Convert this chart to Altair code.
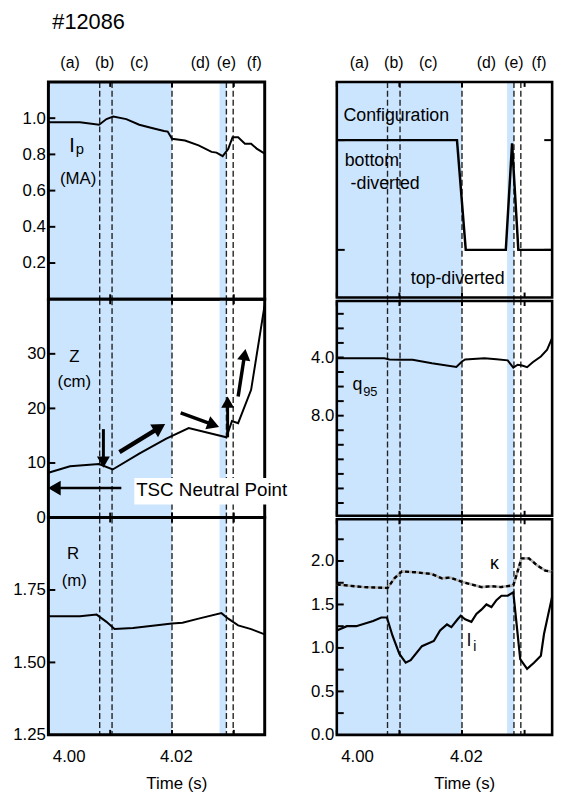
import math
import altair as alt
import pandas as pd

FONT = "Liberation Sans"
BLUE = "#cce5ff"

# ---------------- data ----------------
shot_label = "#12086"
region_labels = ["(a)", "(b)", "(c)", "(d)", "(e)", "(f)"]

left_domain = [4.0, 4.035]
right_domain = [4.0, 4.0344]

left_region_t = [4.0035, 4.0091, 4.0147, 4.0246, 4.0288, 4.0333]
right_region_t = [4.0036, 4.0091, 4.0146, 4.0239, 4.0283, 4.0323]
left_dashed_t = [4.0083, 4.0103, 4.0200, 4.0288, 4.0299]
right_dashed_t = [4.0081, 4.0101, 4.0200, 4.0283, 4.0294]
left_blue_start = [4.0000, 4.0277]
left_blue_end = [4.0200, 4.0288]
right_blue_start = [4.0000, 4.0272]
right_blue_end = [4.0200, 4.0283]
time_ticks = [4.00, 4.01, 4.02, 4.03]
time_labels = [4.00, 4.02]

# plasma current Ip (MA)
ip_t = [4.0000, 4.0051, 4.0082, 4.0094, 4.0105, 4.0126, 4.0147, 4.0169, 4.0187,
        4.0193, 4.0200, 4.0221, 4.0243, 4.0264, 4.0272, 4.0282, 4.0291, 4.0298,
        4.0307, 4.0318, 4.0328, 4.0337, 4.0350]
ip_v = [0.977, 0.977, 0.964, 0.995, 1.009, 0.995, 0.964, 0.944, 0.929,
        0.926, 0.886, 0.877, 0.850, 0.814, 0.810, 0.790, 0.830, 0.895,
        0.895, 0.859, 0.859, 0.832, 0.804]

# vertical position Z (cm)
z_t = [4.0000, 4.0035, 4.0082, 4.0104, 4.0147, 4.0190, 4.0227, 4.0288, 4.0297,
       4.0307, 4.0328, 4.0350]
z_v = [8.2, 9.4, 9.8, 8.8, 11.7, 14.4, 16.4, 14.7, 17.7, 17.3, 23.4, 39.0]

# major radius R (m)
r_t = [4.0000, 4.0051, 4.0078, 4.0094, 4.0107, 4.0137, 4.0200, 4.0217, 4.0243,
       4.0280, 4.0291, 4.0307, 4.0328, 4.0350]
r_v = [1.659, 1.659, 1.665, 1.640, 1.615, 1.619, 1.634, 1.637, 1.651,
       1.670, 1.651, 1.628, 1.615, 1.597]

# configuration: 1 = bottom-diverted, 0 = top-diverted
cfg_t = [4.0000, 4.0192, 4.0206, 4.0270, 4.0280, 4.0290, 4.0344]
cfg_v = [1.0, 1.0, 0.0, 0.0, 0.97, 0.0, 0.0]

# safety factor q95
q_t = [4.0000, 4.0076, 4.0084, 4.0102, 4.0121, 4.0152, 4.0191, 4.0200, 4.0205,
       4.0236, 4.0255, 4.0273, 4.0282, 4.0289, 4.0296, 4.0304, 4.0313, 4.0326,
       4.0336, 4.0344]
q_v = [4.05, 4.05, 4.14, 4.16, 4.16, 4.40, 4.65, 4.28, 4.14,
       4.05, 4.12, 4.20, 4.70, 4.50, 4.55, 4.67, 4.33, 3.93,
       3.47, 2.65]

# elongation kappa
k_t = [4.0000, 4.0042, 4.0081, 4.0092, 4.0104, 4.0126, 4.0152, 4.0168, 4.0181,
       4.0200, 4.0231, 4.0247, 4.0262, 4.0282, 4.0288, 4.0295, 4.0307, 4.0320,
       4.0333, 4.0344]
k_v = [1.73, 1.70, 1.69, 1.80, 1.88, 1.87, 1.85, 1.80, 1.81,
       1.76, 1.70, 1.71, 1.70, 1.72, 1.86, 2.03, 2.03, 1.95,
       1.89, 1.875]

# internal inductance li
li_t = [4.0000, 4.0016, 4.0031, 4.0058, 4.0071, 4.0080, 4.0089, 4.0100, 4.0110,
        4.0118, 4.0136, 4.0155, 4.0165, 4.0176, 4.0183, 4.0193, 4.0198, 4.0205,
        4.0215, 4.0223, 4.0231, 4.0239, 4.0247, 4.0255, 4.0263, 4.0273, 4.0282,
        4.0293, 4.0304, 4.0315, 4.0326, 4.0331, 4.0337, 4.0344]
li_v = [1.20, 1.25, 1.25, 1.31, 1.35, 1.35, 1.14, 0.93, 0.83,
        0.86, 1.02, 1.08, 1.20, 1.27, 1.24, 1.33, 1.37, 1.33,
        1.30, 1.39, 1.44, 1.50, 1.47, 1.55, 1.60, 1.60, 1.64,
        0.87, 0.76, 0.83, 0.91, 1.16, 1.36, 1.59]

# arrows in the Z panel: start -> head
arrow_t0 = [4.0089, 4.0115, 4.0214, 4.0290, 4.0307, 4.0118]
arrow_v0 = [16.2, 12.0, 19.2, 14.7, 22.2, 5.4]
arrow_t1 = [4.0089, 4.0177, 4.0264, 4.0290, 4.0317, 4.0013]
arrow_v1 = [10.5, 16.3, 17.1, 20.8, 29.5, 5.4]
arrow_w = [3.0, 4.5, 3.5, 3.0, 3.5, 2.5]
arrow_head = [170, 230, 200, 170, 180, 220]

tsc_label = "TSC Neutral Point"
tsc_t, tsc_v = 4.0142, 5.0
tsc_box_t = [4.0139, 4.0415]
tsc_box_v = [2.4, 7.25]


# ---------------- helpers ----------------
def df(**cols):
    return pd.DataFrame(cols)


def panel(W, H, xdom, ydom, y_labels, y_fmt, y_ticks, content, *, yrev=False,
          bottom=False, inset_top=0.0, inset_bot=0.0, border_w=3.0,
          dashed_t=(), blue_s=(), blue_e=(), right_ticks=False, tick_len=7,
          header_t=None, header_dy=-19, texts=None, left_texts=None,
          title_text=None):
    if bottom:
        xaxis = alt.Axis(values=time_labels, format=".2f", title="Time (s)",
                         ticks=False, tickSize=0, domain=False, grid=False,
                         labelFontSize=17, labelPadding=14, labelOffset=4,
                         labelFont=FONT, labelColor="black",
                         titleFont=FONT, titleFontSize=17,
                         titleFontWeight="normal", titleColor="black",
                         titlePadding=11, titleX=W / 2 + 20)
    else:
        xaxis = None
    if y_labels:
        yaxis = alt.Axis(values=y_labels, format=y_fmt, title=None, ticks=False,
                         tickSize=0, domain=False, grid=False,
                         labelFontSize=17, labelPadding=3, labelFont=FONT,
                         labelColor="black")
    else:
        yaxis = None
    xs = alt.Scale(domain=xdom, nice=False, zero=False)
    ys = alt.Scale(domain=ydom, nice=False, zero=False, reverse=yrev)
    X = alt.X("t:Q", scale=xs, axis=xaxis)
    Y = alt.Y("v:Q", scale=ys, axis=yaxis)

    layers = []
    layers.append(alt.Chart(df(t=list(blue_s), t2=list(blue_e)))
                  .mark_rect(color=BLUE)
                  .encode(x=X, x2="t2:Q"))
    layers.append(alt.Chart(df(t=list(dashed_t)))
                  .mark_rule(color="#222222", strokeDash=[6, 3], strokeWidth=1.4)
                  .encode(x=X))
    layers.append(alt.Chart(df(a=[0]))
                  .mark_rect(filled=False, stroke="black", strokeWidth=border_w)
                  .encode(x=alt.value(0), x2=alt.value(W),
                          y=alt.value(inset_top), y2=alt.value(H - inset_bot)))
    layers.extend(content(X, Y))
    # inward ticks
    layers.append(alt.Chart(df(v=list(y_ticks)))
                  .mark_rule(color="black", strokeWidth=2)
                  .encode(y=Y, x=alt.value(0), x2=alt.value(tick_len)))
    if right_ticks:
        layers.append(alt.Chart(df(v=list(y_ticks)))
                      .mark_rule(color="black", strokeWidth=2)
                      .encode(y=Y, x=alt.value(W - tick_len), x2=alt.value(W)))
    layers.append(alt.Chart(df(t=time_ticks))
                  .mark_rule(color="black", strokeWidth=2)
                  .encode(x=X, y=alt.value(inset_top), y2=alt.value(inset_top + 5)))
    layers.append(alt.Chart(df(t=time_ticks))
                  .mark_rule(color="black", strokeWidth=2)
                  .encode(x=X, y=alt.value(H - inset_bot - 5), y2=alt.value(H - inset_bot)))
    if texts is not None:
        layers.append(alt.Chart(texts)
                      .mark_text(font=FONT, color="black", align="center", baseline="middle")
                      .encode(x=X, y=Y, text="label:N",
                              size=alt.Size("fs:Q", scale=None)))
    if left_texts is not None:
        layers.append(alt.Chart(left_texts)
                      .mark_text(font=FONT, color="black", align="left", baseline="middle")
                      .encode(x=X, y=Y, text="label:N",
                              size=alt.Size("fs:Q", scale=None)))
    if header_t is not None:
        layers.append(alt.Chart(df(t=list(header_t), label=region_labels))
                      .mark_text(font=FONT, color="black", fontSize=16, baseline="middle")
                      .encode(x=X, y=alt.value(header_dy), text="label:N"))
    if title_text is not None:
        layers.append(alt.Chart(df(label=[title_text]))
                      .mark_text(font=FONT, color="black", fontSize=22, align="left",
                                 baseline="middle")
                      .encode(x=alt.value(4), y=alt.value(-61), text="label:N"))
    return alt.layer(*layers).properties(width=W, height=H)


def line(data_t, data_v, X, Y, **kw):
    style = {"color": "black", "strokeWidth": 2}
    style.update(kw)
    return (alt.Chart(df(t=data_t, v=data_v))
            .mark_line(**style)
            .encode(x=X, y=Y))


# ---------------- left column ----------------
LW = 219
RW = 218
H1, H2, H3 = 220, 221, 220

ip_panel = panel(
    LW, H1, left_domain, [0, 1.2], [0.2, 0.4, 0.6, 0.8, 1.0], ".1f",
    [0.2, 0.4, 0.6, 0.8, 1.0],
    lambda X, Y: [line(ip_t, ip_v, X, Y)],
    dashed_t=left_dashed_t, blue_s=left_blue_start, blue_e=left_blue_end,
    header_t=left_region_t,
    texts=df(label=["I", "p", "(MA)"], t=[4.0038, 4.0051, 4.0048],
             v=[0.845, 0.83, 0.663], fs=[20, 15, 17]),
    title_text=shot_label)


def z_content(X, Y):
    W, Hh = LW, H2
    sx = W / (left_domain[1] - left_domain[0])
    sy = Hh / 40.0
    ang = []
    for a, b, c, d in zip(arrow_t0, arrow_v0, arrow_t1, arrow_v1):
        dx = (c - a) * sx
        dy = -(d - b) * sy
        ang.append(math.degrees(math.atan2(dx, -dy)) % 360)
    arrows = df(t=arrow_t0, v=arrow_v0, t2=arrow_t1, v2=arrow_v1, w=arrow_w)
    heads = df(t=arrow_t1, v=arrow_v1, ang=ang, s=arrow_head)
    return [
        line(z_t, z_v, X, Y),
        alt.Chart(arrows).mark_rule(color="black")
        .encode(x=X, y=Y, x2="t2:Q", y2="v2:Q",
                strokeWidth=alt.StrokeWidth("w:Q", scale=None)),
        alt.Chart(heads).mark_point(shape="triangle", filled=True, color="black",
                                    opacity=1)
        .encode(x=X, y=Y, angle=alt.Angle("ang:Q", scale=None),
                size=alt.Size("s:Q", scale=None)),
        alt.Chart(df(t=[tsc_box_t[0]], t2=[tsc_box_t[1]],
                     v=[tsc_box_v[0]], v2=[tsc_box_v[1]]))
        .mark_rect(color="white")
        .encode(x=X, x2="t2:Q", y=Y, y2="v2:Q"),
        alt.Chart(df(t=[tsc_t], v=[tsc_v], label=[tsc_label]))
        .mark_text(font=FONT, color="black", fontSize=19, align="left",
                   baseline="middle")
        .encode(x=X, y=Y, text="label:N"),
    ]


z_panel = panel(
    LW, H2, left_domain, [0, 40], [0, 10, 20, 30], "d", [10, 20, 30],
    z_content,
    dashed_t=left_dashed_t, blue_s=left_blue_start, blue_e=left_blue_end,
    texts=df(label=["Z", "(cm)"], t=[4.0042, 4.0042], v=[29.4, 24.9], fs=[17, 17]))

r_panel = panel(
    LW, H3, left_domain, [1.25, 2.0], [1.25, 1.50, 1.75], ".2f", [1.50, 1.75],
    lambda X, Y: [line(r_t, r_v, X, Y)],
    bottom=True,
    dashed_t=left_dashed_t, blue_s=left_blue_start, blue_e=left_blue_end,
    texts=df(label=["R", "(m)"], t=[4.0040, 4.0042], v=[1.873, 1.781], fs=[17, 17]))

# ---------------- right column ----------------
GAP = 1.8

cfg_panel = panel(
    RW, H1, right_domain, [-0.45, 1.53], [], "", [0, 1],
    lambda X, Y: [line(cfg_t, cfg_v, X, Y, strokeWidth=2.5)],
    inset_bot=GAP, border_w=2.6, right_ticks=True, tick_len=8,
    dashed_t=right_dashed_t, blue_s=right_blue_start, blue_e=right_blue_end,
    header_t=right_region_t,
    left_texts=df(label=["Configuration", "bottom", "-diverted", "top-diverted"],
                  t=[4.00106, 4.00126, 4.00220, 4.01181],
                  v=[1.218, 0.81, 0.603, -0.27], fs=[18, 18, 18, 18]))

q_panel = panel(
    RW, H2, right_domain, [0, 15], [4.0, 8.0], ".1f", list(range(1, 15)),
    lambda X, Y: [line(q_t, q_v, X, Y)],
    yrev=True, inset_top=GAP, inset_bot=GAP, border_w=2.6,
    dashed_t=right_dashed_t, blue_s=right_blue_start, blue_e=right_blue_end,
    texts=df(label=["q", "95"], t=[4.00331, 4.00535], v=[5.9, 6.4], fs=[18, 13]))


def li_content(X, Y):
    return [
        line(k_t, k_v, X, Y, color="#b0b0b0", strokeWidth=2.6),
        line(k_t, k_v, X, Y, color="black", strokeWidth=2.4, strokeDash=[4, 3]),
        line(li_t, li_v, X, Y, strokeWidth=2.2),
    ]


li_panel = panel(
    RW, H3, right_domain, [0, 2.5], [0.0, 0.5, 1.0, 1.5, 2.0], ".1f",
    [0.25, 0.5, 0.75, 1.0, 1.25, 1.5, 1.75, 2.0, 2.25],
    li_content,
    bottom=True, inset_top=GAP, border_w=2.6,
    dashed_t=right_dashed_t, blue_s=right_blue_start, blue_e=right_blue_end,
    texts=df(label=["\u03ba", "l", "i"], t=[4.02520, 4.02110, 4.02205],
             v=[1.966, 1.08, 1.01], fs=[18, 18, 14]))

chart = alt.concat(
    ip_panel, cfg_panel, z_panel, q_panel, r_panel, li_panel,
    columns=2, spacing={"row": 0, "column": 73}, bounds="flush",
).configure_view(strokeWidth=0).properties(
    padding={"left": 12, "top": 6, "right": 5, "bottom": 5},
    background="white",
)

chart.save("out.html", embed_options={"renderer": "svg", "actions": False})
